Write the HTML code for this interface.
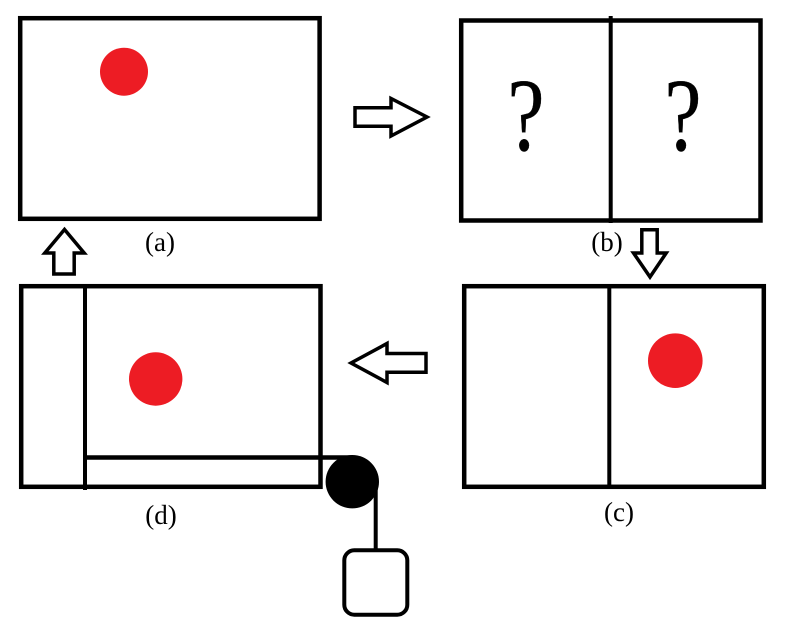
<!DOCTYPE html>
<html>
<head>
<meta charset="utf-8">
<style>
  html,body{margin:0;padding:0;background:#fff;}
  svg{display:block;}
  text{font-family:"Liberation Serif", serif; fill:#000;}
</style>
</head>
<body>
<svg width="789" height="622" viewBox="0 0 789 622" xmlns="http://www.w3.org/2000/svg">
  <rect x="0" y="0" width="789" height="622" fill="#fff"/>

  <!-- Box (a) -->
  <rect x="20.2" y="18.2" width="299.4" height="200.6" fill="none" stroke="#000" stroke-width="4.5"/>
  <circle cx="124" cy="71.7" r="24" fill="#ED1C24"/>
  <text x="160" y="251" font-size="27" text-anchor="middle">(a)</text>

  <!-- Right arrow -->
  <polygon points="355,107.8 391,107.8 391,98.5 427,117 391,136 391,126.3 355,126.3" fill="#fff" stroke="#000" stroke-width="3.5" stroke-linejoin="miter"/>

  <!-- Box (b) -->
  <rect x="461.2" y="20.5" width="299.3" height="200" fill="none" stroke="#000" stroke-width="4.5"/>
  <line x1="610.7" y1="16" x2="610.7" y2="223" stroke="#000" stroke-width="4"/>
  <text transform="translate(526,150) scale(0.8,1)" font-size="104" text-anchor="middle" stroke="#000" stroke-width="0.4">?</text>
  <text transform="translate(683,150) scale(0.8,1)" font-size="104" text-anchor="middle" stroke="#000" stroke-width="0.4">?</text>
  <text x="607" y="251" font-size="27" text-anchor="middle">(b)</text>

  <!-- Down arrow -->
  <polygon points="641.8,229.8 657.2,229.8 657.2,253 666.2,253 650,277 633.5,253 641.8,253" fill="#fff" stroke="#000" stroke-width="3.5"/>

  <!-- Box (c) -->
  <rect x="464.2" y="286.2" width="299.6" height="200.6" fill="none" stroke="#000" stroke-width="4.5"/>
  <line x1="609.3" y1="286" x2="609.3" y2="487" stroke="#000" stroke-width="4"/>
  <circle cx="675.3" cy="360.7" r="27.3" fill="#ED1C24"/>
  <text x="619" y="521" font-size="27" text-anchor="middle">(c)</text>

  <!-- Left arrow -->
  <polygon points="426,353.5 387,353.5 387,343.5 351,363 387,382.5 387,372.2 426,372.2" fill="#fff" stroke="#000" stroke-width="3.5"/>

  <!-- Up arrow -->
  <polygon points="53.8,274 74.2,274 74.2,253 84.2,253 64.5,229.5 44.8,253 53.8,253" fill="#fff" stroke="#000" stroke-width="3.5"/>

  <!-- Box (d) -->
  <rect x="21.2" y="286.2" width="299.3" height="200.6" fill="none" stroke="#000" stroke-width="4.5"/>
  <line x1="85" y1="286" x2="85" y2="490" stroke="#000" stroke-width="4"/>
  <line x1="83" y1="457.5" x2="352" y2="457.5" stroke="#000" stroke-width="4.5"/>
  <circle cx="155.7" cy="379" r="26.7" fill="#ED1C24"/>
  <circle cx="352.3" cy="481.7" r="26.7" fill="#000"/>
  <line x1="375.7" y1="482" x2="375.7" y2="551" stroke="#000" stroke-width="4"/>
  <rect x="344.3" y="550.3" width="63" height="64.4" rx="10" ry="10" fill="#fff" stroke="#000" stroke-width="4"/>
  <text x="161" y="524" font-size="27" text-anchor="middle">(d)</text>
</svg>
</body>
</html>
